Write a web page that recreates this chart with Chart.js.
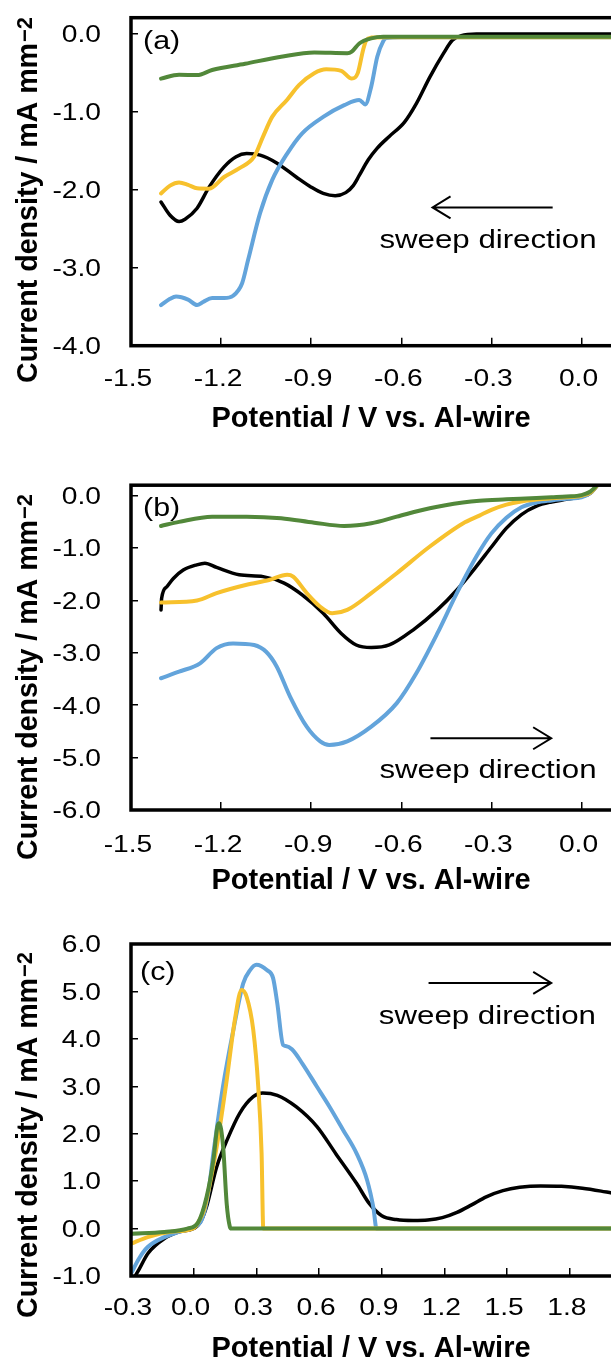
<!DOCTYPE html>
<html>
<head>
<meta charset="utf-8">
<script src="https://cdn.jsdelivr.net/npm/chart.js@4"></script>
<style>
  html, body { margin: 0; padding: 0; background: #fff; }
  body { width: 611px; height: 1360px; overflow: hidden; position: relative; }
  .panel { position: absolute; left: 0; width: 700px; }
  canvas { display: block; }
</style>
</head>
<body>
<div class="panel" style="top:0px"><canvas id="chartA" width="700" height="450"></canvas></div>
<div class="panel" style="top:450px"><canvas id="chartB" width="700" height="450"></canvas></div>
<div class="panel" style="top:900px"><canvas id="chartC" width="700" height="460"></canvas></div>
<script>
// ---- Tick values ----
const abXTicks = [-1.5, -1.2, -0.9, -0.6, -0.3, 0.0, 0.3];
const aYTicks = [-4, -3, -2, -1, 0];
const bYTicks = [-6, -5, -4, -3, -2, -1, 0];
const cXTicks = [-0.3, 0.0, 0.3, 0.6, 0.9, 1.2, 1.5, 1.8, 2.1];
const cYTicks = [-1, 0, 1, 2, 3, 4, 5, 6];

// ---- (a) cathodic sweep: [potential V, current density mA mm^-2] ----
const aBlack = [[-1.40,-2.16],[-1.37,-2.33],[-1.34,-2.41],[-1.32,-2.38],[-1.28,-2.24],[-1.24,-1.97],[-1.19,-1.71],
  [-1.15,-1.58],[-1.115,-1.54],[-1.07,-1.56],[-1.015,-1.66],[-0.95,-1.84],[-0.90,-1.97],[-0.86,-2.05],[-0.82,-2.08],
  [-0.785,-2.04],[-0.76,-1.95],[-0.74,-1.82],[-0.71,-1.62],[-0.68,-1.47],[-0.64,-1.32],[-0.59,-1.14],[-0.55,-0.90],
  [-0.505,-0.56],[-0.46,-0.26],[-0.43,-0.09],[-0.40,-0.03],[-0.35,-0.01],[0.0,-0.01],[0.3,-0.01]];
const aBlue = [[-1.40,-3.48],[-1.37,-3.40],[-1.35,-3.37],[-1.31,-3.41],[-1.28,-3.48],[-1.26,-3.44],[-1.23,-3.39],
  [-1.19,-3.39],[-1.16,-3.36],[-1.13,-3.20],[-1.11,-2.90],[-1.07,-2.30],[-1.03,-1.88],[-0.98,-1.54],[-0.93,-1.28],
  [-0.86,-1.07],[-0.79,-0.92],[-0.74,-0.855],[-0.72,-0.91],[-0.70,-0.68],[-0.68,-0.30],[-0.66,-0.10],[-0.65,-0.06],
  [-0.60,-0.05],[0.3,-0.05]];
const aYellow = [[-1.40,-2.05],[-1.37,-1.95],[-1.34,-1.91],[-1.31,-1.94],[-1.28,-1.985],[-1.24,-1.99],[-1.19,-1.84],
  [-1.14,-1.73],[-1.09,-1.58],[-1.06,-1.32],[-1.03,-1.07],[-0.98,-0.85],[-0.94,-0.66],[-0.89,-0.51],[-0.85,-0.46],
  [-0.80,-0.48],[-0.765,-0.58],[-0.745,-0.51],[-0.727,-0.21],[-0.716,-0.085],[-0.70,-0.055],[-0.65,-0.05],[0.3,-0.05]];
const aGreen = [[-1.40,-0.58],[-1.34,-0.53],[-1.28,-0.535],[-1.23,-0.47],[-1.12,-0.39],[-1.00,-0.30],[-0.89,-0.245],
  [-0.78,-0.255],[-0.765,-0.235],[-0.74,-0.13],[-0.70,-0.065],[-0.66,-0.045],[0.3,-0.045]];

// ---- (b) anodic sweep from -1.4 V ----
const bBlack = [[-1.40,-2.18],[-1.398,-1.96],[-1.381,-1.74],[-1.359,-1.58],[-1.326,-1.42],[-1.281,-1.32],[-1.254,-1.29],
  [-1.215,-1.37],[-1.14,-1.51],[-1.06,-1.545],[-0.99,-1.67],[-0.93,-1.895],[-0.86,-2.245],[-0.80,-2.63],[-0.75,-2.85],
  [-0.70,-2.90],[-0.64,-2.85],[-0.56,-2.56],[-0.48,-2.18],[-0.415,-1.80],[-0.35,-1.35],[-0.30,-0.98],[-0.25,-0.62],
  [-0.20,-0.36],[-0.15,-0.20],[-0.10,-0.12],[-0.05,-0.07],[0.0,-0.02],[0.03,0.05],[0.06,0.25]];
const bBlue = [[-1.40,-3.485],[-1.34,-3.36],[-1.27,-3.20],[-1.215,-2.91],[-1.16,-2.82],[-1.09,-2.85],[-1.05,-2.98],
  [-1.015,-3.26],[-0.97,-3.84],[-0.915,-4.41],[-0.87,-4.69],[-0.84,-4.76],[-0.78,-4.69],[-0.70,-4.41],[-0.615,-3.96],
  [-0.55,-3.39],[-0.48,-2.63],[-0.415,-1.86],[-0.35,-1.16],[-0.30,-0.72],[-0.25,-0.42],[-0.20,-0.22],[-0.15,-0.13],
  [-0.10,-0.09],[-0.05,-0.06],[0.0,-0.03],[0.03,0.05],[0.06,0.25]];
const bYellow = [[-1.40,-2.04],[-1.28,-2.0],[-1.215,-1.86],[-1.115,-1.70],[-1.04,-1.61],[-0.98,-1.51],[-0.96,-1.545],
  [-0.915,-1.86],[-0.87,-2.12],[-0.83,-2.245],[-0.78,-2.18],[-0.70,-1.86],[-0.615,-1.48],[-0.505,-0.97],[-0.395,-0.53],
  [-0.34,-0.38],[-0.30,-0.27],[-0.25,-0.17],[-0.20,-0.11],[-0.15,-0.075],[-0.10,-0.05],[-0.05,-0.03],[0.0,0.0],
  [0.03,0.06],[0.06,0.25]];
const bGreen = [[-1.40,-0.578],[-1.34,-0.50],[-1.23,-0.40],[-1.115,-0.40],[-1.00,-0.43],[-0.89,-0.515],[-0.79,-0.578],
  [-0.70,-0.527],[-0.615,-0.40],[-0.505,-0.24],[-0.395,-0.13],[-0.34,-0.095],[-0.25,-0.07],[-0.15,-0.045],
  [-0.10,-0.03],[-0.05,-0.015],[0.0,0.01],[0.03,0.08],[0.06,0.25]];

// ---- (c) anodic sweep from -0.3 V ----
const cBlack = [[-0.30,-1.15],[-0.26,-0.85],[-0.22,-0.53],[-0.14,-0.21],[-0.07,-0.07],[0.0,0.0],[0.03,0.12],[0.06,0.44],
  [0.11,1.30],[0.16,1.87],[0.22,2.43],[0.285,2.78],[0.33,2.86],[0.40,2.81],[0.49,2.57],[0.59,2.15],[0.68,1.58],
  [0.78,0.95],[0.84,0.53],[0.90,0.27],[0.97,0.19],[1.05,0.17],[1.12,0.18],[1.19,0.23],[1.26,0.34],[1.33,0.50],
  [1.40,0.67],[1.48,0.80],[1.56,0.87],[1.66,0.90],[1.76,0.89],[1.86,0.85],[1.95,0.79],[2.0,0.75],[2.1,0.68]];
const cBlue = [[-0.30,-0.95],[-0.26,-0.62],[-0.22,-0.39],[-0.14,-0.18],[-0.07,-0.07],[0.0,0.03],[0.04,0.2],[0.07,0.75],
  [0.094,1.58],[0.14,2.99],[0.19,4.19],[0.237,5.17],[0.27,5.45],[0.30,5.56],[0.35,5.45],[0.38,5.28],[0.40,4.75],
  [0.428,3.87],[0.44,3.85],[0.47,3.78],[0.52,3.48],[0.59,2.99],[0.65,2.57],[0.715,2.08],[0.78,1.58],[0.83,1.02],
  [0.86,0.44],[0.875,0.0],[2.1,0.0]];
const cYellow = [[-0.30,-0.32],[-0.22,-0.18],[-0.11,-0.07],[0.0,0.01],[0.02,0.12],[0.05,0.4],[0.08,1.0],[0.11,1.72],
  [0.158,3.13],[0.197,4.40],[0.229,5.03],[0.253,4.89],[0.285,4.19],[0.309,2.99],[0.325,1.58],[0.333,0.0],[2.1,0.0]];
const cGreen = [[-0.30,-0.11],[-0.14,-0.07],[-0.03,0.0],[0.02,0.12],[0.062,0.67],[0.094,1.44],[0.113,2.14],
  [0.122,2.22],[0.141,1.72],[0.158,0.52],[0.173,0.04],[0.18,0.0],[2.1,0.0]];

// ---- styling ----
const COLORS = { black: '#000000', blue: '#63A4DB', yellow: '#F7C12D', green: '#52883A' };
const SANS = "'Liberation Sans', Arial, sans-serif";
const TICK_FONT = '23.5px ' + SANS;
const NOTE_FONT = '25px ' + SANS;
const LETTER_FONT = '26px ' + SANS;
const XTITLE_FONT = 'bold 29px ' + SANS;
const YTITLE_FONT = 'bold 28.6px ' + SANS;
const SUP_FONT = 'bold 22px ' + SANS;
const WIDE = 1.2;

const fmt = v => v.toFixed(1);
const toPoints = pairs => pairs.map(p => ({ x: p[0], y: p[1] }));

function wideText(ctx, str, x, y, align, font, sx) {
  ctx.save();
  ctx.font = font;
  ctx.textAlign = align;
  ctx.textBaseline = 'alphabetic';
  ctx.translate(x, y);
  ctx.scale(sx, 1);
  ctx.fillText(str, 0, 0);
  ctx.restore();
}

function makeDatasets(black, blue, yellow, green) {
  const base = { pointRadius: 0, fill: false, cubicInterpolationMode: 'monotone',
                 borderCapStyle: 'round', borderJoinStyle: 'round' };
  // first dataset is painted last (on top)
  return [
    { label: 'green', data: toPoints(green), borderColor: COLORS.green, borderWidth: 4 },
    { label: 'yellow', data: toPoints(yellow), borderColor: COLORS.yellow, borderWidth: 4 },
    { label: 'blue', data: toPoints(blue), borderColor: COLORS.blue, borderWidth: 4 },
    { label: 'black', data: toPoints(black), borderColor: COLORS.black, borderWidth: 3.5 }
  ].map(d => Object.assign({}, base, d));
}

// frame, tick labels, axis titles, panel letter and sweep-direction note
function panelDecor(cfg) {
  return {
    id: 'panelDecor',
    afterDraw(chart) {
      const ctx = chart.ctx, ca = chart.chartArea;
      const xs = chart.scales.x, ys = chart.scales.y;
      ctx.save();
      ctx.strokeStyle = '#000';
      ctx.lineWidth = 3.5;
      ctx.strokeRect(ca.left, ca.top, ca.right - ca.left, ca.bottom - ca.top);

      ctx.fillStyle = '#000';
      cfg.yTicks.forEach(v =>
        wideText(ctx, fmt(v), 101, ys.getPixelForValue(v) + 8.3, 'right', TICK_FONT, WIDE));
      cfg.xTicks.forEach(v =>
        wideText(ctx, fmt(v), xs.getPixelForValue(v) - 3, cfg.xLabelBase, 'center', TICK_FONT, WIDE));

      ctx.font = XTITLE_FONT;
      ctx.textAlign = 'center';
      ctx.textBaseline = 'alphabetic';
      ctx.fillText('Potential / V vs. Al-wire', 371, cfg.xTitleBase);

      ctx.save();
      ctx.translate(36.7, cfg.yTitleStart);
      ctx.rotate(-Math.PI / 2);
      ctx.textAlign = 'left';
      ctx.font = YTITLE_FONT;
      const main = 'Current density / mA mm';
      ctx.fillText(main, 0, 0);
      const w = ctx.measureText(main).width;
      ctx.font = SUP_FONT;
      ctx.fillText('\u22122', w + 1, -5);
      ctx.restore();

      wideText(ctx, cfg.letter, cfg.letterX, cfg.letterBase, 'left', LETTER_FONT, 1.17);

      // sweep direction arrow
      const ax1 = xs.getPixelForValue(cfg.arrow.from);
      const ax2 = xs.getPixelForValue(cfg.arrow.to);
      const ay = ys.getPixelForValue(cfg.arrow.y);
      const dir = Math.sign(ax2 - ax1);
      ctx.lineWidth = 2;
      ctx.lineCap = 'butt';
      ctx.beginPath();
      ctx.moveTo(ax1, ay);
      ctx.lineTo(ax2, ay);
      ctx.moveTo(ax2 - dir * 18, ay - 11);
      ctx.lineTo(ax2, ay);
      ctx.lineTo(ax2 - dir * 18, ay + 11);
      ctx.stroke();
      wideText(ctx, 'sweep direction', xs.getPixelForValue(cfg.note.x), ys.getPixelForValue(cfg.note.y),
               'left', NOTE_FONT, 1.25);
      ctx.restore();
    }
  };
}

function makeChart(id, ds, xr, yr, xTicks, yTicks, pad, decor) {
  const setTicks = vals => scale => { scale.ticks = vals.map(v => ({ value: v })); };
  const grid = len => ({ display: true, drawOnChartArea: false, drawTicks: true,
                         tickLength: len, color: '#000', lineWidth: 1.5 });
  return new Chart(document.getElementById(id), {
    type: 'line',
    data: { datasets: ds },
    options: {
      responsive: false,
      animation: false,
      devicePixelRatio: 1,
      layout: { padding: pad },
      plugins: { legend: { display: false }, tooltip: { enabled: false } },
      scales: {
        x: { type: 'linear', min: xr[0], max: xr[1], ticks: { display: false },
             grid: grid(-8), border: { display: false },
             afterBuildTicks: setTicks(xTicks), afterFit: s => { s.height = 0; } },
        y: { type: 'linear', min: yr[0], max: yr[1], ticks: { display: false },
             grid: grid(-7), border: { display: false },
             afterBuildTicks: setTicks(yTicks), afterFit: s => { s.width = 0; } }
      }
    },
    plugins: [panelDecor(Object.assign({ xTicks, yTicks }, decor))]
  });
}

makeChart('chartA', makeDatasets(aBlack, aBlue, aYellow, aGreen), [-1.5, 0.3], [-4, 0.2],
  abXTicks, aYTicks, { left: 131, top: 17.7, right: 28.4, bottom: 104.3 },
  { xLabelBase: 386.2, xTitleBase: 426.7, yTitleStart: 383, letter: '(a)', letterX: 143, letterBase: 49.4,
    arrow: { from: -0.096, to: -0.496, y: -2.23 }, note: { x: -0.673, y: -2.75 } });

makeChart('chartB', makeDatasets(bBlack, bBlue, bYellow, bGreen), [-1.5, 0.3], [-6, 0.2],
  abXTicks, bYTicks, { left: 131, top: 35.2, right: 28.4, bottom: 90 },
  { xLabelBase: 401.6, xTitleBase: 439.3, yTitleStart: 410, letter: '(b)', letterX: 143, letterBase: 66,
    arrow: { from: -0.503, to: -0.101, y: -4.63 }, note: { x: -0.673, y: -5.39 } });

makeChart('chartC', makeDatasets(cBlack, cBlue, cYellow, cGreen), [-0.3, 2.1], [-1, 6],
  cXTicks, cYTicks, { left: 131, top: 44, right: 67.5, bottom: 84 },
  { xLabelBase: 415, xTitleBase: 456.7, yTitleStart: 418, letter: '(c)', letterX: 140, letterBase: 79.5,
    arrow: { from: 1.124, to: 1.711, y: 5.18 }, note: { x: 0.886, y: 4.31 } });
</script>
</body>
</html>
